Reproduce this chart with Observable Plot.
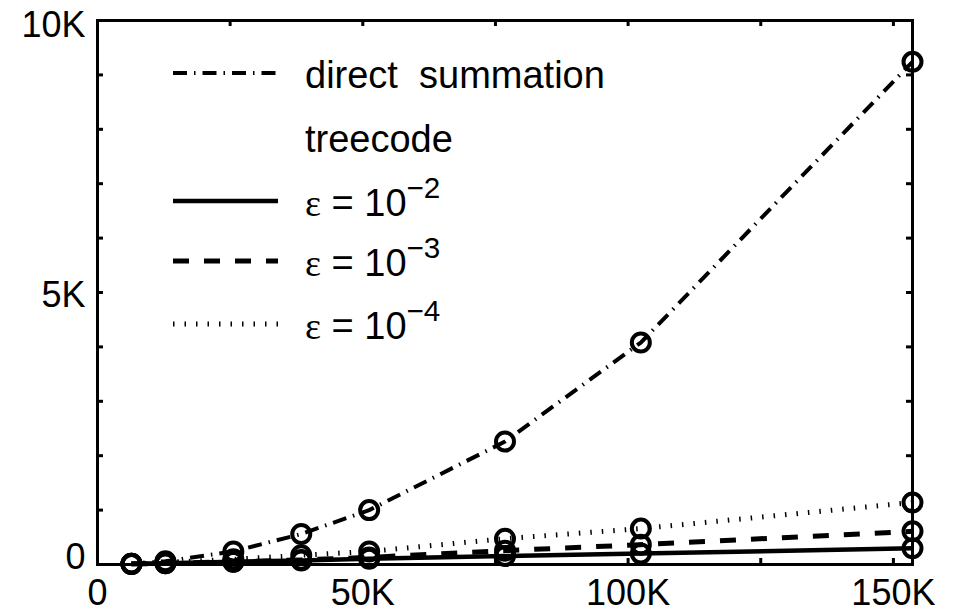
<!DOCTYPE html>
<html><head><meta charset="utf-8">
<script src="https://cdn.jsdelivr.net/npm/d3@7"></script>
<script src="https://cdn.jsdelivr.net/npm/@observablehq/plot@0.6"></script>
<style>
html,body{margin:0;padding:0;background:#fff;}
#chart svg{display:block;}
</style>
</head><body><div id="chart"></div>
<script>
// ---- data ----
const particles = [6400, 12800, 25600, 38400, 51200, 76800, 102400, 153600];
const directSummation = [15, 60, 240, 560, 1000, 2260, 4080, 9240];
const treeEps2 = [12, 25, 50, 75, 105, 155, 200, 300];
const treeEps3 = [10, 22, 50, 85, 130, 255, 365, 610];
const treeEps4 = [15, 40, 95, 170, 240, 475, 660, 1140];
const seriesNames = ["direct", "eps2", "eps3", "eps4"];
const xTickValues = [0, 25000, 50000, 75000, 100000, 125000, 150000];
const xLabelValues = [0, 50000, 100000, 150000];
const xLabels = ["0", "50K", "100K", "150K"];
const yTickValues = [0, 1000, 2000, 3000, 4000, 5000, 6000, 7000, 8000, 9000, 10000];
const yLabelValues = [0, 5000, 10000];
const yLabels = ["0", "5K", "10K"];
const legendLabels = ["direct  summation", "treecode", "ε = 10", "ε = 10", "ε = 10"];
const legendExponents = ["", "", "−2", "−3", "−4"];
const legendSeries = ["direct", null, "eps2", "eps3", "eps4"];

// ---- layout / style ----
const W = 960, H = 614, mL = 97, mR = 48, mT = 20, mB = 50;
const plotW = W - mL - mR, plotH = H - mT - mB;
const tickLen = 6;
const font = "'Liberation Sans', Arial, Helvetica, sans-serif";
const fontSize = 36;
const legendFontSize = 38;
const styles = {
  direct: {dash: "14,7,1.5,7", width: 4},
  eps2: {dash: null, width: 4.5},
  eps3: {dash: "16,15", width: 5},
  eps4: {dash: "1.5,10", width: 5}
};
const yNudge = [-7, 3, 5];

const valuesBySeries = {direct: directSummation, eps2: treeEps2, eps3: treeEps3, eps4: treeEps4};
const rows = seriesNames.flatMap(s => particles.map((n, i) => ({series: s, n, t: valuesBySeries[s][i]})));

const marks = [
  Plot.frame({stroke: "black", strokeWidth: 3}),
  Plot.tickX(xTickValues, {x: d => d, insetTop: plotH - tickLen, strokeWidth: 3}),
  Plot.tickX(xTickValues, {x: d => d, insetBottom: plotH - tickLen, strokeWidth: 3}),
  Plot.tickY(yTickValues, {y: d => d, insetRight: plotW - tickLen, strokeWidth: 3}),
  Plot.tickY(yTickValues, {y: d => d, insetLeft: plotW - tickLen, strokeWidth: 3}),
  Plot.axisX(xLabelValues, {tickSize: 0, tickPadding: 15, fontSize, label: null, tickFormat: d => xLabels[xLabelValues.indexOf(d)]}),
  ...yLabelValues.map((v, i) => Plot.text([v], {
    y: d => d, text: () => yLabels[i], frameAnchor: "left", textAnchor: "end",
    dx: -12, dy: yNudge[i], fontSize, lineAnchor: "middle"
  })),
  ...seriesNames.map(s => Plot.line(rows.filter(r => r.series === s), {
    x: "n", y: "t", stroke: "black", strokeWidth: styles[s].width,
    strokeDasharray: styles[s].dash, strokeLinecap: "butt", strokeLinejoin: "round"
  })),
  Plot.dot(rows, {x: "n", y: "t", r: 9, stroke: "black", strokeWidth: 4, fill: "none"})
];

const svg = Plot.plot({
  width: W, height: H,
  marginLeft: mL, marginRight: mR, marginTop: mT, marginBottom: mB,
  style: {fontFamily: font, fontSize: fontSize + "px", color: "black", background: "white"},
  x: {domain: [0, 153600], label: null},
  y: {domain: [0, 10000], axis: null, label: null},
  marks
});

// legend inside the plot area
const lg = d3.select(svg).append("g").attr("font-family", font)
  .attr("font-size", legendFontSize).attr("text-anchor", "start");
const lineX1 = 173, lineX2 = 278, textX = 305;
const rowLineY = [73, 137, 201, 261, 324];
const baselineOffset = 15;
legendLabels.forEach((lab, i) => {
  const s = legendSeries[i];
  if (s) {
    lg.append("line").attr("x1", lineX1).attr("x2", lineX2)
      .attr("y1", rowLineY[i]).attr("y2", rowLineY[i])
      .attr("stroke", "black").attr("stroke-width", styles[s].width)
      .attr("stroke-dasharray", styles[s].dash).attr("stroke-linecap", "butt");
  }
  const t = lg.append("text").attr("x", textX).attr("y", rowLineY[i] + baselineOffset)
    .attr("text-anchor", "start").style("white-space", "pre").attr("fill", "black");
  if (lab.startsWith("ε")) {
    t.append("tspan").attr("font-family", "'Liberation Serif', 'DejaVu Serif', serif").text("ε");
    t.append("tspan").text(lab.slice(1));
    t.append("tspan").attr("dy", -18).attr("font-size", legendFontSize * 0.78).text(legendExponents[i]);
  } else {
    t.text(lab);
  }
});

document.getElementById("chart").appendChild(svg);
</script>
</body></html>
